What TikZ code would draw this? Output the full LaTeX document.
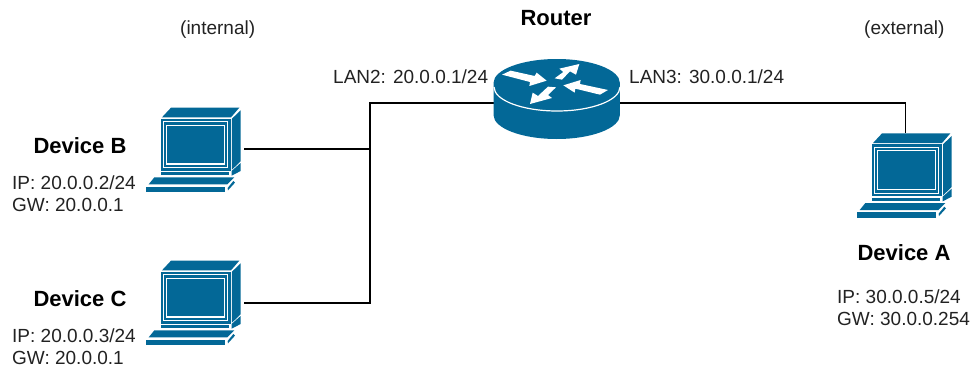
\documentclass[tikz,border=0pt]{standalone}
\usepackage{fontspec}
\setmainfont{Liberation Sans}
\definecolor{cisco}{HTML}{036897}
\definecolor{txt}{HTML}{222222}
\tikzset{
  x=1pt,y=-1pt,
  label text/.style={font=\fontsize{19}{22}\selectfont,text=txt,inner sep=0pt,anchor=west},
  info text/.style={font=\fontsize{19}{22}\selectfont,text=txt,inner sep=0pt,align=left,anchor=north west},
  title text/.style={font=\fontsize{22}{26}\selectfont\bfseries,text=black,inner sep=0pt},
  wire/.style={draw=black,line width=1.6pt},
  hitbox/.style={inner sep=0pt,minimum width=98pt,minimum height=82pt},
  routerbox/.style={inner sep=0pt,minimum width=126pt,minimum height=72pt},
  computer/.pic={
    \begin{scope}[x=0.3333pt,y=-0.3333pt]
      \fill[cisco] (66,67)--(93,38)--(298,38)--(273,67)--cycle;
      \fill[cisco] (276,71)--(302,46)--(302,199)--(276,224)--cycle;
      \fill[cisco] (275,228)--(302,204)--(302,228)--(275,242)--cycle;
      \fill[cisco] (62,71)--(272,71)--(272,227)--(62,227)--cycle;
      \fill[white] (69,78)--(265,78)--(265,220)--(69,220)--cycle;
      \fill[cisco] (73,82)--(261,82)--(261,216)--(73,216)--cycle;
      \fill[white] (79,89)--(255,89)--(255,209)--(79,209)--cycle;
      \fill[cisco] (82,92)--(251,92)--(251,205)--(82,205)--cycle;
      \fill[cisco] (62,231)--(266,231)--(266,241)--(62,241)--cycle;
      \fill[cisco] (26,268)--(43,247)--(283,247)--(262,268)--cycle;
      \fill[cisco] (18,275)--(256,275)--(256,292)--(18,292)--cycle;
      \fill[cisco] (263,279)--(280,258)--(285,263)--(264,286)--cycle;
    \end{scope}
  }
}
\begin{document}
\begin{tikzpicture}
\useasboundingbox (0,0) rectangle (980,372);
% invisible anchors
\node[hitbox] (devB) at (195,149) {};
\node[hitbox] (devC) at (195,303) {};
\node[hitbox] (devA) at (905.5,174) {};
\node[routerbox] (router) at (557,103) {};
\coordinate (junction) at (370,103);
\coordinate (bendA) at (905.5,103);
% connectors
\draw[wire] (devB.east) -- (junction |- devB.east);
\draw[wire] (devC.east) -- (junction |- devC.east) -- (junction) -- (router.west);
\draw[wire] (router.east) -- (bendA) -- (devA.north);
% router
\fill[cisco] (493.5,83) -- (493.5,115) arc[start angle=180,end angle=0,x radius=63.2,y radius=24] -- (619.9,83) arc[start angle=0,end angle=-180,x radius=63.2,y radius=24] -- cycle;
\draw[white,line width=1.2pt] (494,87) arc[start angle=180,end angle=0,x radius=63,y radius=24];
\begin{scope}[shift={(480,50)},x=0.3333pt,y=-0.3333pt]
  \fill[white] (66,74)--(92,62)--(164,78)--(170,68)--(200,92)--(148,108)--(150,96)--cycle;
  \fill[white] (224,85)--(250,66)--(238,56)--(298,42)--(288,74)--(270,64)--(246,89)--cycle;
  \fill[white] (384,120)--(360,134)--(286,116)--(284,128)--(250,106)--(302,90)--(300,102)--cycle;
  \fill[white] (228,112)--(204,135)--(216,144)--(150,162)--(158,128)--(174,138)--(204,110)--cycle;
\end{scope}
% computers
\pic at (140,95) {computer};
\pic at (140,248) {computer};
\pic at (851,120.7) {computer};
% texts
\node[title text] at (556,18) {Router};
\node[label text] at (180,30) {(internal)};
\node[label text] at (864,30) {(external)};
\node[label text] at (333,77) {LAN2: 20.0.0.1/24};
\node[label text] at (629,77) {LAN3: 30.0.0.1/24};
\node[title text] at (80,146) {Device B};
\node[info text] at (12,176) {IP: 20.0.0.2/24\\GW: 20.0.0.1};
\node[title text] at (80,299) {Device C};
\node[info text] at (12,329) {IP: 20.0.0.3/24\\GW: 20.0.0.1};
\node[title text] at (904,253) {Device A};
\node[info text] at (837,290) {IP: 30.0.0.5/24\\GW: 30.0.0.254};
\end{tikzpicture}
\end{document}
